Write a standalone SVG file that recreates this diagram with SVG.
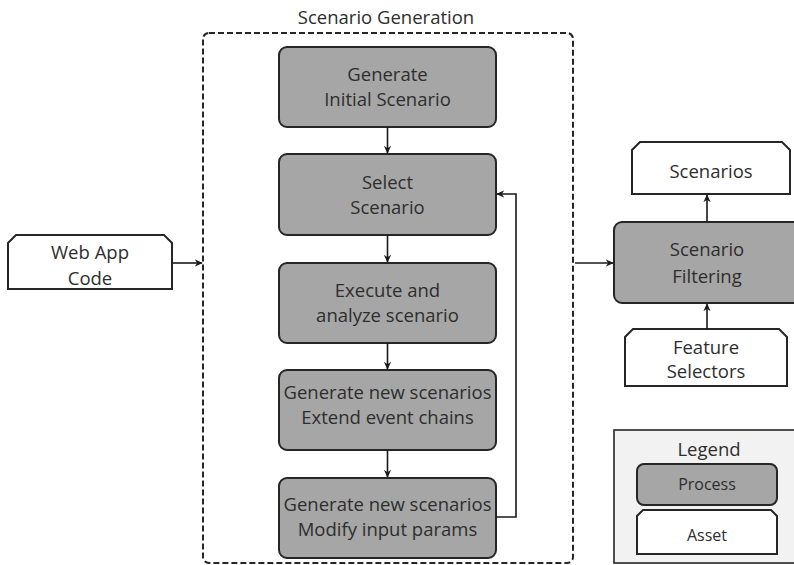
<svg xmlns="http://www.w3.org/2000/svg" width="794" height="565" viewBox="0 0 794 565">
  <defs>
    <marker id="arr" viewBox="0 0 10 10" refX="9" refY="5" markerWidth="8" markerHeight="8" markerUnits="userSpaceOnUse" orient="auto">
      <path d="M0,0.5 L10,5 L0,9.5 L3,5 Z" fill="#1a1a1a"/>
    </marker>
    <style>
      .proc { fill: #a6a6a6; stroke: #262626; stroke-width: 2; }
      .asset { fill: #ffffff; stroke: #262626; stroke-width: 2; }
      .t { font-family: "Open Sans", "Liberation Sans", sans-serif; font-size: 18.5px; fill: #2e2e2e; text-anchor: middle; }
      .ts { font-family: "Open Sans", "Liberation Sans", sans-serif; font-size: 16px; fill: #2e2e2e; text-anchor: middle; }
      .conn { fill: none; stroke: #1a1a1a; stroke-width: 1.6; marker-end: url(#arr); }
    </style>
  </defs>
  <rect width="794" height="565" fill="#ffffff"/>

  <g id="scenario-generation">
    <rect x="203" y="33" width="370" height="530" rx="6" fill="none" stroke="#262626" stroke-width="2" stroke-dasharray="6,3"/>
    <text class="t" x="386" y="24">Scenario Generation</text>
  </g>

  <g id="web-app-code">
    <path class="asset" d="M8,289 V243 L16,235 H164 L172,243 V289 Z"/>
    <text class="t" x="90" y="259">Web App</text>
    <text class="t" x="90" y="285">Code</text>
  </g>

  <g id="generate-initial">
    <rect class="proc" x="279" y="47" width="217" height="80" rx="8"/>
    <text class="t" x="387.5" y="81">Generate</text>
    <text class="t" x="387.5" y="106">Initial Scenario</text>
  </g>

  <g id="select-scenario">
    <rect class="proc" x="279" y="154" width="217" height="81" rx="8"/>
    <text class="t" x="387.5" y="189">Select</text>
    <text class="t" x="387.5" y="214">Scenario</text>
  </g>

  <g id="execute-analyze">
    <rect class="proc" x="279" y="263" width="217" height="80" rx="8"/>
    <text class="t" x="387.5" y="297">Execute and</text>
    <text class="t" x="387.5" y="322">analyze scenario</text>
  </g>

  <g id="extend-event-chains">
    <rect class="proc" x="279" y="370" width="217" height="80" rx="8"/>
    <text class="t" x="387.5" y="399">Generate new scenarios</text>
    <text class="t" x="387.5" y="424">Extend event chains</text>
  </g>

  <g id="modify-input-params">
    <rect class="proc" x="279" y="478" width="217" height="80" rx="8"/>
    <text class="t" x="387.5" y="511">Generate new scenarios</text>
    <text class="t" x="387.5" y="536">Modify input params</text>
  </g>

  <g id="scenarios">
    <path class="asset" d="M632,194 V150 L640,142 H782 L790,150 V194 Z"/>
    <text class="t" x="711" y="178">Scenarios</text>
  </g>

  <g id="scenario-filtering">
    <rect class="proc" x="614" y="222" width="190" height="81" rx="8"/>
    <text class="t" x="707" y="256">Scenario</text>
    <text class="t" x="707" y="283">Filtering</text>
  </g>

  <g id="feature-selectors">
    <path class="asset" d="M625,386 V337 L633,329 H779 L787,337 V386 Z"/>
    <text class="t" x="706" y="354">Feature</text>
    <text class="t" x="706" y="378">Selectors</text>
  </g>

  <g id="legend">
    <rect x="614" y="430" width="190" height="133" fill="#f2f2f2" stroke="#262626" stroke-width="1.6"/>
    <text class="t" x="709" y="456">Legend</text>
    <g id="legend-process">
      <rect class="proc" x="637" y="464" width="140" height="41" rx="7"/>
      <text class="ts" x="707" y="490">Process</text>
    </g>
    <g id="legend-asset">
      <path class="asset" d="M637,554 V516 L643,510 H771 L777,516 V554 Z"/>
      <text class="ts" x="707" y="541">Asset</text>
    </g>
  </g>

  <g id="connectors">
    <path class="conn" d="M172,263 H202"/>
    <path class="conn" d="M387.5,127 V153"/>
    <path class="conn" d="M387.5,235 V262"/>
    <path class="conn" d="M387.5,343 V369"/>
    <path class="conn" d="M387.5,450 V477"/>
    <path class="conn" d="M496,517 H516 V194 H497"/>
    <path class="conn" d="M575,263 H613"/>
    <path class="conn" d="M707,222 V195"/>
    <path class="conn" d="M707,329 V304"/>
  </g>
</svg>
